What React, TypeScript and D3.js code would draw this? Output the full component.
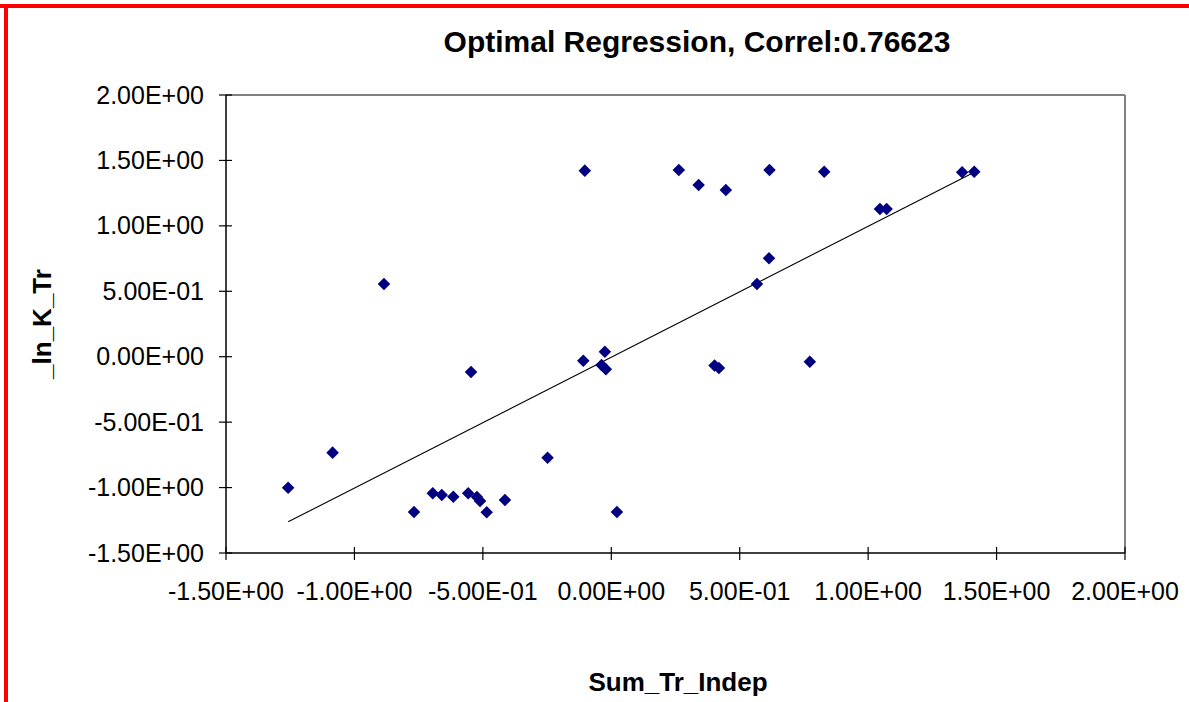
import React from "react";
import * as d3 from "d3";

const sumTrIndep: number[] = [
  -1.258, -1.085, -0.885, -0.768, -0.695, -0.66, -0.615, -0.557, -0.523, -0.511,
  -0.485, -0.414, -0.546, -0.248, -0.103, -0.109, -0.025, -0.038, -0.021, 0.402,
  0.419, 0.773, 0.263, 0.34, 0.446, 0.616, 0.829, 0.614, 0.567, 1.046,
  1.072, 1.366, 1.413, 0.022,
];
const lnKTr: number[] = [
  -1.001, -0.733, 0.556, -1.187, -1.044, -1.057, -1.07, -1.044, -1.072, -1.103,
  -1.189, -1.095, -0.117, -0.772, 1.422, -0.03, 0.038, -0.063, -0.096, -0.067,
  -0.086, -0.038, 1.427, 1.312, 1.274, 1.427, 1.414, 0.752, 0.556, 1.129,
  1.129, 1.409, 1.414, -1.187,
];
const fitX: number[] = [-1.258, 1.413];
const fitY: number[] = [-1.262, 1.41];
const xTicks: number[] = [-1.5, -1.0, -0.5, 0, 0.5, 1.0, 1.5, 2.0];
const yTicks: number[] = [-1.5, -1.0, -0.5, 0, 0.5, 1.0, 1.5, 2.0];
const title = "Optimal Regression, Correl:0.76623";
const xTitle = "Sum_Tr_Indep";
const yTitle = "_ln_K_Tr";

const W = 1189;
const H = 702;
const L = 226;
const R = 1125;
const T = 95;
const B = 553;

function fmtE(v: number): string {
  // Excel-like 0.00E+00 format
  if (v === 0) return "0.00E+00";
  const sign = v < 0 ? "-" : "";
  const a = Math.abs(v);
  const e = Math.floor(Math.log10(a) + 1e-9);
  const m = a / Math.pow(10, e);
  const es = (e < 0 ? "-" : "+") + String(Math.abs(e)).padStart(2, "0");
  return `${sign}${m.toFixed(2)}E${es}`;
}

export default function App() {
  const x = d3.scaleLinear().domain([-1.5, 2.0]).range([L, R]);
  const y = d3.scaleLinear().domain([-1.5, 2.0]).range([B, T]);
  const font = "'Liberation Sans', Arial, sans-serif";
  const diamond = d3.symbol().type(d3.symbolDiamond2).size(100)();
  const line = d3
    .line<number>()
    .x((_, i) => x(fitX[i]))
    .y((_, i) => y(fitY[i]));

  return (
    <svg
      width={W}
      height={H}
      style={{ position: "absolute", left: 0, top: 0, background: "#fff" }}
      fontFamily={font}
    >
      <rect x={0} y={0} width={W} height={H} fill="#fff" />
      {/* red frame */}
      <line x1={0} x2={W} y1={6} y2={6} stroke="#ff0000" strokeWidth={4} />
      <line x1={6} x2={6} y1={4} y2={H} stroke="#ff0000" strokeWidth={4} />

      {/* title */}
      <text x={697} y={52} textAnchor="middle" fontSize={30} fontWeight="bold" fill="#000">
        {title}
      </text>

      {/* plot frame: gray top & right */}
      <line x1={L} x2={R} y1={T} y2={T} stroke="#808080" strokeWidth={2} />
      <line x1={R} x2={R} y1={T} y2={B} stroke="#808080" strokeWidth={2} />

      {/* axes */}
      <line x1={L} x2={L} y1={T} y2={B} stroke="#000" strokeWidth={1.5} />
      <line x1={L} x2={R} y1={B} y2={B} stroke="#000" strokeWidth={1.5} />

      {yTicks.map((t) => (
        <g key={"y" + t}>
          <line x1={L - 7} x2={L + 6} y1={y(t)} y2={y(t)} stroke="#000" strokeWidth={1.2} />
          <text x={204} y={y(t) + 8.5} textAnchor="end" fontSize={25} fill="#000">
            {fmtE(t)}
          </text>
        </g>
      ))}
      {xTicks.map((t) => (
        <g key={"x" + t}>
          <line x1={x(t)} x2={x(t)} y1={B - 6} y2={B + 7} stroke="#000" strokeWidth={1.2} />
          <text x={x(t)} y={600} textAnchor="middle" fontSize={25} fill="#000">
            {fmtE(t)}
          </text>
        </g>
      ))}

      {/* trendline */}
      <path d={line(fitX) || ""} fill="none" stroke="#000" strokeWidth={1.1} />

      {/* points */}
      {sumTrIndep.map((v, i) => (
        <path
          key={"p" + i}
          d={diamond || ""}
          transform={`translate(${x(v)},${y(lnKTr[i])})`}
          fill="#000080"
        />
      ))}

      {/* axis titles */}
      <text x={678} y={691} textAnchor="middle" fontSize={26} fontWeight="bold" fill="#000">
        {xTitle}
      </text>
      <text
        transform={`translate(51,324) rotate(-90)`}
        textAnchor="middle"
        fontSize={26}
        fontWeight="bold"
        fill="#000"
      >
        {yTitle}
      </text>
    </svg>
  );
}
